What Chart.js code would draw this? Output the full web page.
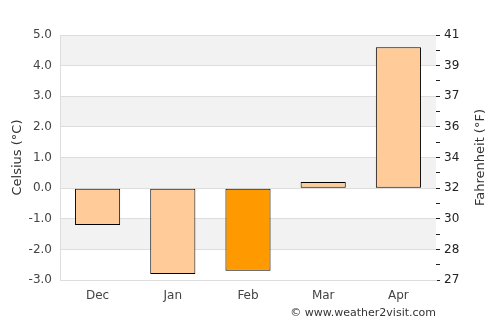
<!DOCTYPE html>
<html>
<head>
<meta charset="utf-8">
<script src="https://cdn.jsdelivr.net/npm/chart.js@4"></script>
<style>
html,body{margin:0;padding:0;background:#fff;}
#wrap{width:500px;height:325px;position:relative;}
</style>
</head>
<body>
<div id="wrap"><canvas id="chart" width="500" height="325"></canvas></div>
<script>
const months = ["Dec","Jan","Feb","Mar","Apr"];
const tempsC = [-1.2,-2.8,-2.7,0.2,4.6];
const barColors = ["#ffcc99","#ffcc99","#ff9900","#ffcc99","#ffcc99"];
const celsiusTicks = [-3,-2,-1,0,1,2,3,4,5];
const fahrenheitLabels = ["27","28","30","32","34","36","37","39","41"];

const FONT = "'DejaVu Sans', sans-serif";

// gray/white bands, axis titles and the credit line
const extras = {
id:"extras",
beforeDraw(chart){
const c=chart.ctx, a=chart.chartArea, y=chart.scales.y;
c.save();
for(let i=0;i<celsiusTicks.length-1;i++){
let top=celsiusTicks[celsiusTicks.length-1-i], bot=top-1;
if(i%2==0){
c.fillStyle="#f2f2f2";
let y1=y.getPixelForValue(top), y2=y.getPixelForValue(bot);
c.fillRect(a.left,y1,a.right-a.left,y2-y1);
}
}
c.restore();
},
afterDraw(chart){
const c=chart.ctx, a=chart.chartArea;
const mid=(a.top+a.bottom)/2;
c.save();
c.font="13px "+FONT;
c.fillStyle="#333";
c.textAlign="center";
c.textBaseline="middle";
c.save();
c.translate(18,mid);c.rotate(-Math.PI/2);
c.fillText("Celsius (°C)",0,0);
c.restore();
c.save();
c.translate(481,mid);c.rotate(-Math.PI/2);
c.fillText("Fahrenheit (°F)",0,0);
c.restore();
c.font="11px "+FONT;
c.textAlign="right";
c.fillText("© www.weather2visit.com",a.right,313);
c.restore();
}
};

new Chart(document.getElementById("chart"),{
type:"bar",
data:{
labels:months,
datasets:[{
data:tempsC,
backgroundColor:barColors,
borderColor:"#000",
borderWidth:1,
borderSkipped:false,
barPercentage:0.6,
categoryPercentage:1
}]
},
options:{
responsive:false,
animation:false,
layout:{padding:{top:35,left:0,right:0,bottom:0}},
plugins:{legend:{display:false},tooltip:{enabled:false}},
scales:{
x:{
grid:{display:false},
border:{color:"#ddd"},
ticks:{color:"#444",font:{family:FONT,size:12},padding:1},
afterFit(s){s.height=45;}
},
y:{
min:-3,max:5,
position:"left",
grid:{color:"#ddd",drawTicks:false},
border:{color:"#ddd"},
ticks:{stepSize:1,color:"#444",font:{family:FONT,size:12},padding:8,
callback:v=>v.toFixed(1)},
afterFit(s){s.width=60;}
},
y2:{
min:-3,max:5,
position:"right",
grid:{drawOnChartArea:false,drawTicks:true,tickLength:4,color:"#222"},
border:{display:false},
afterBuildTicks(s){
let t=[];
for(let v=-3;v<=5;v+=0.5)t.push({value:v});
s.ticks=t;
},
ticks:{color:"#222",font:{family:FONT,size:12},padding:4,autoSkip:false,
callback:v=>{
let i=celsiusTicks.indexOf(v);
return i>=0?fahrenheitLabels[i]:"";
}},
afterFit(s){s.width=64;}
}
}
},
plugins:[extras]
});
</script>
</body>
</html>
